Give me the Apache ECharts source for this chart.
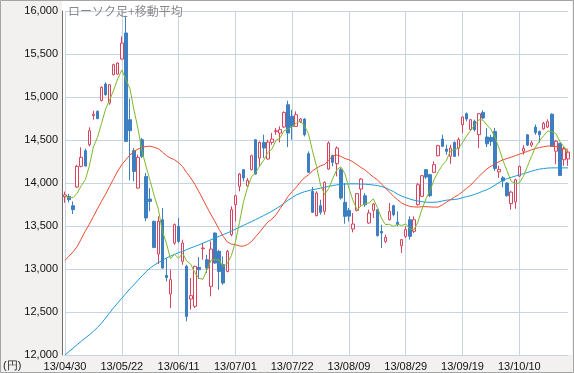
<!DOCTYPE html>
<html><head><meta charset="utf-8">
<script src="https://cdn.jsdelivr.net/npm/echarts@6/dist/echarts.min.js"></script>
<style>html,body{margin:0;padding:0;background:#f2f1ef}#c{width:574px;height:373px}</style>
</head><body><div id="c"></div>
<script>
const dates = ['13/04/30','13/05/01','13/05/02','13/05/07','13/05/08','13/05/09','13/05/10','13/05/13','13/05/14','13/05/15','13/05/16','13/05/17','13/05/20','13/05/21','13/05/22',
'13/05/23','13/05/24','13/05/27','13/05/28','13/05/29','13/05/30','13/05/31','13/06/03','13/06/04','13/06/05','13/06/06','13/06/07','13/06/10','13/06/11',
'13/06/12','13/06/13','13/06/14','13/06/17','13/06/18','13/06/19','13/06/20','13/06/21','13/06/24','13/06/25','13/06/26','13/06/27','13/06/28','13/07/01',
'13/07/02','13/07/03','13/07/04','13/07/05','13/07/08','13/07/09','13/07/10','13/07/11','13/07/12','13/07/16','13/07/17','13/07/18','13/07/19','13/07/22',
'13/07/23','13/07/24','13/07/25','13/07/26','13/07/29','13/07/30','13/07/31','13/08/01','13/08/02','13/08/05','13/08/06','13/08/07','13/08/08','13/08/09',
'13/08/12','13/08/13','13/08/14','13/08/15','13/08/16','13/08/19','13/08/20','13/08/21','13/08/22','13/08/23','13/08/26','13/08/27','13/08/28','13/08/29',
'13/08/30','13/09/02','13/09/03','13/09/04','13/09/05','13/09/06','13/09/09','13/09/10','13/09/11','13/09/12','13/09/13','13/09/17','13/09/18','13/09/19',
'13/09/20','13/09/24','13/09/25','13/09/26','13/09/27','13/09/30','13/10/01','13/10/02','13/10/03','13/10/04','13/10/07','13/10/08','13/10/09','13/10/10',
'13/10/11','13/10/15','13/10/16','13/10/17','13/10/18','13/10/21','13/10/22','13/10/23','13/10/24','13/10/25','13/10/28','13/10/29'];

const opens = [13840,13845,13736,13953,14193,14376,14445,14785,14833,14957,
15151,14930,15259,15267,15441,15744,14736,14376,13941,14503,
14077,13813,13554,13174,13573,12926,12709,13302,13496,13089,
13031,12651,12566,13019,13236,13108,12798,13418,13205,13050,
12972,13399,13748,13961,14155,13965,14155,14503,14290,14472,
14279,14473,14598,14581,14651,14910,14775,14658,14716,14744,
14341,13903,13620,13736,13670,14162,14317,14224,14155,13775,
13680,13465,13682,13930,13852,13535,13682,13690,13438,13321,
13573,13736,13545,13271,13380,13573,13438,13748,13845,14155,
14097,14124,14317,14511,14395,14310,14472,14406,14678,14806,
14620,14717,14562,14821,14535,14530,14600,14130,14060,14000,
13760,13780,14080,14370,14560,14440,14650,14600,14630,14650,
14800,14370,14460,14270,14280];
const closes = [13862,13806,13690,14193,14298,14197,14608,14800,14748,15112,
15027,15143,15376,15395,15627,14484,14608,14135,14298,14310,
13593,13786,13251,13554,13011,12900,12876,13516,13321,13302,
12449,12690,13031,12992,13244,13011,13232,13069,12972,12837,
13205,13690,13852,14104,14058,14030,14317,14104,14472,14407,
14476,14511,14608,14620,14821,14581,14658,14794,14744,14562,
14124,13659,13883,13659,14007,14465,14240,14406,13825,13612,
13615,13523,13876,14046,13748,13651,13755,13387,13418,13368,
13670,13631,13520,13341,13457,13380,13573,13980,14085,14069,
13852,14213,14434,14426,14368,14407,14310,14505,14767,14744,
14736,14620,14806,14756,14455,14484,14170,14157,14024,13853,
13894,14037,14194,14404,14441,14467,14586,14561,14693,14713,
14426,14486,14088,14396,14360];
const lows = [13770,13775,13639,13941,14182,14193,14426,14736,14744,14949,
15015,14910,15252,15259,15434,14480,14030,14019,13935,14290,
13554,13670,13244,13058,13003,12856,12546,13282,13302,13050,
12391,12527,12546,12883,13108,12953,12682,13061,12759,12817,
12961,13380,13554,13903,14019,13953,14147,14096,14193,14290,
14271,14445,14561,14472,14639,14418,14503,14651,14697,14542,
14116,13651,13612,13632,13632,14155,14193,14077,13806,13527,
13554,13426,13670,13736,13721,13527,13593,13380,13244,13302,
13565,13612,13496,13186,13360,13341,13418,13736,13837,14046,
13837,14116,14310,14418,14329,14225,14302,14310,14581,14717,
14612,14600,14407,14740,14418,14430,14140,14060,13950,13840,
13690,13700,14070,14330,14430,14420,14560,14470,14620,14640,
14420,14220,14080,14200,14200];
const highs = [13900,13872,13786,14213,14414,14399,14647,14841,14845,15124,
15170,15151,15387,15403,15705,15945,14980,14407,14330,14523,
14116,13941,13562,13612,13709,13127,12992,13530,13593,13341,
13050,12895,13038,13139,13302,13166,13321,13426,13224,13147,
13224,13728,13864,14116,14162,14058,14329,14511,14484,14562,
14503,14581,14639,14659,14833,14957,14852,14833,14755,14755,
14368,13953,13903,13806,14019,14484,14329,14426,14174,14000,
13709,13651,13883,14058,13883,13690,13767,13697,13515,13399,
13767,13748,13670,13349,13496,13612,13612,14000,14093,14162,
14108,14252,14445,14562,14445,14445,14484,14530,14775,14821,
14744,14736,14814,14845,14639,14560,14640,14200,14080,14010,
13910,14050,14200,14440,14570,14490,14680,14610,14710,14740,
14810,14500,14470,14420,14380];

const ma5 = [13850,13830,13830,13880,13969,14037,14197,14418,14529,14692,
14858,14965,15081,15211,15314,15205,15098,14850,14630,14367,
14189,14024,13848,13699,13439,13300,13118,13171,13125,13183,
13093,13056,12959,12893,12880,12993,13101,13109,13105,13024,
13063,13155,13311,13538,13782,13947,14072,14123,14196,14266,
14355,14394,14494,14524,14607,14628,14657,14695,14719,14667,
14576,14376,14194,13977,13866,13935,14051,14155,14189,14110,
13940,13796,13690,13734,13762,13769,13815,13717,13592,13516,
13520,13495,13521,13506,13524,13466,13454,13546,13695,13817,
13912,14040,14131,14204,14259,14370,14389,14403,14471,14547,
14612,14674,14735,14732,14675,14624,14534,14404,14258,14138,
14020,13993,14000,14076,14194,14309,14418,14492,14550,14604,
14596,14576,14481,14422,14344];
const ma25 = [13100,13150,13200,13260,13350,13440,13520,13610,13700,13786,
13870,13960,14050,14140,14213,14270,14325,14365,14395,14414,
14425,14428,14415,14399,14360,14318,14290,14271,14235,14190,
14120,14058,13985,13900,13810,13720,13630,13550,13460,13380,
13315,13290,13283,13268,13265,13285,13320,13375,13430,13490,
13545,13580,13630,13700,13770,13845,13900,13950,14010,14060,
14095,14140,14174,14200,14215,14265,14315,14325,14310,14285,
14271,14245,14213,14180,14150,14110,14070,14038,13990,13941,
13893,13845,13805,13767,13745,13728,13722,13720,13725,13725,
13722,13720,13720,13745,13775,13805,13835,13863,13900,13938,
13975,14025,14075,14120,14163,14195,14222,14248,14270,14285,
14300,14318,14334,14352,14368,14385,14402,14412,14422,14430,
14432,14425,14410,14400,14391];
const ma75 = [12000,12040,12080,12120,12160,12198,12235,12275,12320,12370,
12430,12490,12550,12605,12660,12715,12770,12817,12870,12920,
12968,13012,13045,13075,13100,13128,13150,13170,13190,13205,
13225,13245,13262,13280,13300,13320,13340,13360,13380,13400,
13420,13440,13463,13485,13507,13530,13552,13575,13598,13622,
13646,13672,13700,13730,13765,13800,13830,13860,13880,13898,
13910,13922,13930,13940,13950,13962,13970,13978,13985,13988,
13990,13990,13990,13988,13986,13982,13977,13970,13960,13945,
13922,13900,13870,13848,13830,13814,13800,13790,13782,13777,
13775,13776,13780,13790,13800,13805,13808,13815,13830,13842,
13852,13868,13885,13905,13922,13945,13975,14005,14035,14050,
14065,14080,14095,14108,14122,14137,14150,14162,14168,14174,
14176,14176,14176,14176,14176];

const yMin = 12000, yMax = 16000, yStep = 500;

const candles = dates.map((d, i) => [opens[i], closes[i], lows[i], highs[i]]);
const chart = echarts.init(document.getElementById('c'), null, {renderer: 'canvas'});
const gridColor = '#c8d3e4';
const option = {
  animation: false,
  backgroundColor: '#f2f1ef',
  textStyle: {fontFamily: '"Liberation Sans", Arial, sans-serif'},
  graphic: [
    {type: 'rect', z: -10, shape: {x: 62, y: 0, width: 510, height: 355}, style: {fill: '#ffffff'}},
    {type: 'rect', z: 100, shape: {x: 0.5, y: 0.5, width: 573, height: 372}, style: {fill: 'none', stroke: '#a5a5a5', lineWidth: 1}},
    {type: 'text', left: 3, top: 360, style: {text: '(円)', fontSize: 11, fill: '#222', font: '11px "Noto Sans CJK JP"'}}
  ],
  title: {
    text: 'ローソク足+移動平均', left: 63, top: 0,
    textStyle: {fontSize: 12, fontWeight: 'normal', color: '#8a8a8a', fontFamily: '"Noto Sans CJK JP"'}
  },
  grid: {left: 65, right: 6, top: 11, bottom: 18},
  xAxis: {
    type: 'category', data: dates, boundaryGap: false,
    axisLine: {lineStyle: {color: gridColor}},
    axisTick: {show: false},
    axisLabel: {interval: 13, color: '#111', fontSize: 11, margin: 6},
    splitLine: {show: true, interval: 13, lineStyle: {color: gridColor, width: 1}}
  },
  yAxis: {
    type: 'value', min: yMin, max: yMax, interval: yStep, offset: 3,
    axisLine: {show: true, lineStyle: {color: '#6e6e6e'}},
    axisTick: {show: false},
    axisLabel: {color: '#111', fontSize: 11, margin: 4, formatter: v => v.toLocaleString('en-US')},
    splitLine: {lineStyle: {color: gridColor, width: 1}}
  },
  series: [
    {type: 'candlestick', data: candles, barWidth: 3,
     itemStyle: {color: '#ffffff', color0: '#3d7fc0', borderColor: '#d9435e', borderColor0: '#3d7fc0', borderWidth: 1}},
    {type: 'line', data: ma75, symbol: 'none', lineStyle: {color: '#1a9ad6', width: 1}},
    {type: 'line', data: ma25, symbol: 'none', lineStyle: {color: '#ee4b30', width: 1}},
    {type: 'line', data: ma5, symbol: 'none', lineStyle: {color: '#7cb92a', width: 1}}
  ]
};
chart.setOption(option);
</script></body></html>
